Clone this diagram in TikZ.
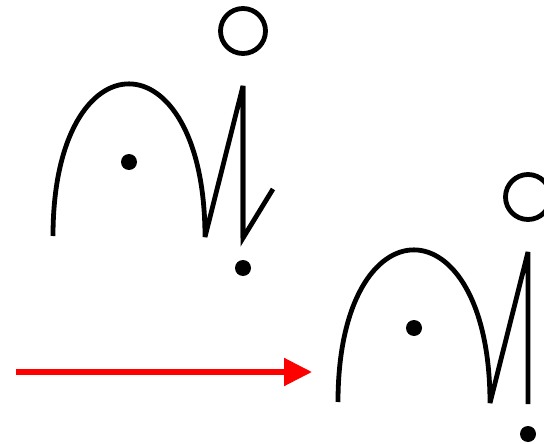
\documentclass[tikz,border=0pt]{standalone}
\usetikzlibrary{arrows.meta}
\begin{document}
\begin{tikzpicture}[x=1pt,y=-1pt]
\tikzset{
  figstroke/.style={draw=black,line width=4.8pt,line join=bevel},
  dotnode/.style={circle,fill=black,inner sep=0pt,minimum size=16pt},
  ringnode/.style={circle,draw=black,line width=4.8pt,inner sep=0pt,minimum size=45pt},
  moveedge/.style={draw=red,line width=5.3pt,-{Triangle[length=28pt,width=27pt]}},
  glyph/.pic={
    \node[ringnode] (ring) at (243,31) {};
    \node[dotnode] (inner) at (129,162) {};
    \node[dotnode] (lower) at (243,268) {};
    \coordinate (top) at (243,86);
    \coordinate (foot) at (243,238);
    \draw[figstroke] (53,236) .. controls (53,33) and (205,33) .. (205,237)
      -- (top) -- (foot);
  }
}
\useasboundingbox (0,0) rectangle (544,444);
\clip (0,0) rectangle (544,444);
% first glyph and its moved copy
\pic (before-) at (0,0) {glyph};
\pic (after-) at (285,166) {glyph};
% tail stroke of the first glyph only
\coordinate (tail_end) at (273,189);
\draw[figstroke,line join=miter] (before-top) -- (before-foot) -- (tail_end);
% move arrow
\coordinate (arrow_tail) at (16,372);
\coordinate (arrow_head) at (312,372);
\draw[moveedge] (arrow_tail) -- (arrow_head);
\end{tikzpicture}
\end{document}
